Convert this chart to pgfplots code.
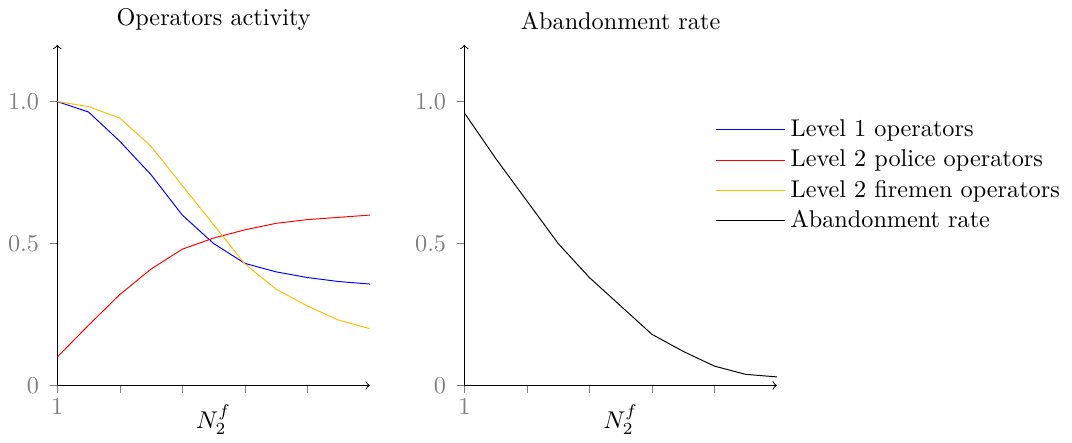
\documentclass[border=0pt]{standalone}
\usepackage{pgfplots}
\pgfplotsset{compat=1.18}
\definecolor{amber}{RGB}{255,191,0}
\pgfplotsset{
  myaxis/.style={
    scale only axis,
    width=129pt, height=140.6pt,
    axis lines=left,
    axis line style={->},
    xmin=1, xmax=11, ymin=0, ymax=1.2,
    xtick={1,3,5,7,9}, xticklabels={1},
    ytick={0,0.5,1}, yticklabels={0,0.5,1.0},
    tick align=outside,
    major tick length=3pt,
    tick style={gray},
    ticklabel style={gray},
    xticklabel style={yshift=1pt},
    yticklabel style={xshift=-1pt},
    title style={yshift=-3.5pt},
    xlabel={$N_2^f$},
    xlabel style={yshift=11pt},
    legend image code/.code={\draw[#1] (0cm,0cm) -- (1cm,0cm);},
  }
}
\begin{document}
\begin{tikzpicture}
\begin{axis}[myaxis, title={Operators activity}]
\addplot[color=blue] coordinates {
(1,1.0) (2,0.963) (3,0.86) (4,0.742) (5,0.60) (6,0.50) (7,0.43) (8,0.40) (9,0.38) (10,0.366) (11,0.357)
};
\addplot[color=red] coordinates {
(1,0.10) (2,0.212) (3,0.32) (4,0.41) (5,0.48) (6,0.519) (7,0.548) (8,0.571) (9,0.584) (10,0.592) (11,0.60)
};
\addplot[color=amber] coordinates {
(1,1.0) (2,0.982) (3,0.942) (4,0.842) (5,0.704) (6,0.566) (7,0.428) (8,0.339) (9,0.28) (10,0.23) (11,0.20)
};
\end{axis}
\begin{axis}[myaxis, at={(168pt,0)}, title={Abandonment rate},
  legend style={draw=none, fill=none, at={(rel axis cs:0.78,0.81)}, anchor=north west, cells={anchor=west}}]
\addlegendimage{color=blue}
\addlegendentry{Level 1 operators}
\addlegendimage{color=red}
\addlegendentry{Level 2 police operators}
\addlegendimage{color=amber}
\addlegendentry{Level 2 firemen operators}
\addplot[color=black] coordinates {
(1,0.96) (2,0.80) (3,0.65) (4,0.50) (5,0.38) (6,0.28) (7,0.18) (8,0.12) (9,0.068) (10,0.039) (11,0.03)
};
\addlegendentry{Abandonment rate}
\end{axis}
\end{tikzpicture}
\end{document}
